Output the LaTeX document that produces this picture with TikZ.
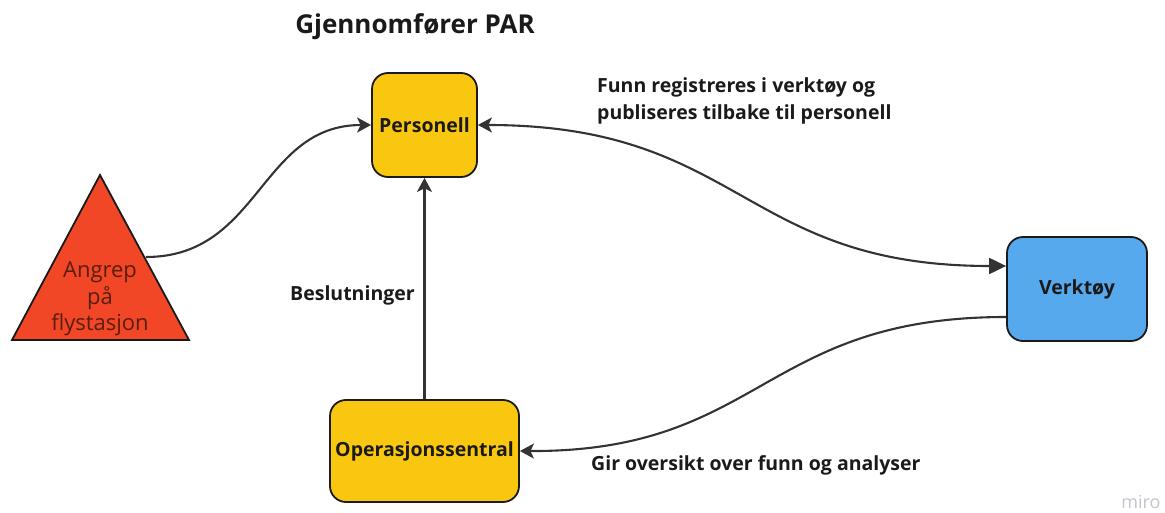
\documentclass[tikz,border=0pt]{standalone}
\usepackage{fontspec}
\setmainfont{Open Sans}
\usetikzlibrary{arrows.meta,shapes.geometric}
\definecolor{myyellow}{HTML}{FAC710}
\definecolor{myblue}{HTML}{57A9EE}
\definecolor{myred}{HTML}{F24726}
\definecolor{edgec}{HTML}{1A1A1A}
\definecolor{linec}{HTML}{333333}
\definecolor{txtc}{HTML}{1A1A1A}
\definecolor{redtxt}{HTML}{5A1E10}
\definecolor{miroc}{HTML}{C2C5CC}
\tikzset{
  box/.style={draw=edgec, line width=1.8pt, rounded corners=16pt, font=\bfseries\fontsize{19.5}{22}\selectfont, text=txtc, inner sep=0pt},
  conn/.style={draw=linec, line width=2.1pt},
  tip/.style={-{Stealth[length=14pt,width=15pt,inset=3.5pt]}},
  lbl/.style={font=\bfseries\fontsize{19.5}{27}\selectfont, text=txtc, align=left, inner sep=0pt},
}
\begin{document}
\begin{tikzpicture}[x=1pt,y=-1pt]
\useasboundingbox (0,0) rectangle (1165,513);
% triangle
\draw[draw=edgec, line width=1.8pt, fill=myred] (100,175) -- (189,340) -- (12,340) -- cycle;
\node[font=\fontsize{22}{26.5}\selectfont, text=redtxt, align=center, inner sep=0pt] (tri) at (100,299) {Angrep\\på\\flystasjon};
\coordinate (tris) at (146,257);
% boxes
\node[box, fill=myyellow, minimum width=105pt, minimum height=104pt] (pers) at (424.5,125) {Personell};
\node[box, fill=myblue, minimum width=140pt, minimum height=104pt] (verk) at (1077,289) {Verktøy};
\node[box, fill=myyellow, minimum width=189pt, minimum height=102pt] (ops) at (424.5,451) {Operasjonssentral};
% title and labels
\node[font=\bfseries\fontsize{26}{30}\selectfont, text=txtc, inner sep=0pt] (title) at (415,27) {Gjennomfører PAR};
\node[lbl, anchor=north west] (l1) at (597,77.5) {Funn registreres i verktøy og\\publiseres tilbake til personell};
\node[lbl, anchor=west] (l2) at (290,295) {Beslutninger};
\node[lbl, anchor=west] (l3) at (591,465) {Gir oversikt over funn og analyser};
\node[font=\fontsize{18}{20}\selectfont, text=miroc, inner sep=0pt] (miro) at (1141,502) {miro};
% connectors
\draw[conn, tip] (tris) .. controls (260,257) and (260,125) .. (pers.west);
\draw[conn, {Stealth[length=14pt,width=15pt,inset=3.5pt]}-{Triangle[length=17pt,width=16pt]}] (pers.east) .. controls (742,125) and (742,266) .. ([yshift=23pt]verk.west);
\draw[conn, tip] ([yshift=-28pt]verk.west) .. controls (762,317) and (762,452) .. (ops.east);
\draw[conn, tip] (ops.north) -- (pers.south);
\end{tikzpicture}
\end{document}
